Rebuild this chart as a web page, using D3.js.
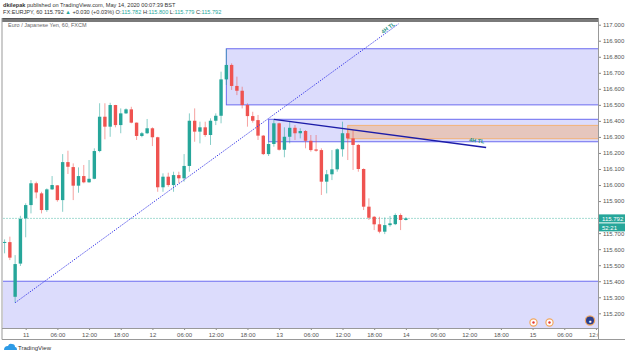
<!DOCTYPE html>
<meta charset="utf-8">
<style>
body { margin: 0; background: #fff; }
text { font-family: "Liberation Sans", Arial, sans-serif; }
.axis text { font-size: 6px; fill: #555; }
.axis line { stroke: #888; }
.axis path { display: none; }
</style>
<body>
<script src="https://d3js.org/d3.v7.min.js"></script>
<script>

// EURJPY hourly candles, 10 May 20:00 .. 14 May 00:00
var firstHour = -4;   // hours from 11 May 00:00

var opens = [115.640,115.644,115.303,115.510,115.792,115.875,116.011,115.948,115.844,115.973,
  115.998,115.906,116.143,116.112,115.996,116.056,116.017,116.039,116.212,116.426,
  116.364,116.499,116.374,116.447,116.472,116.389,116.306,116.323,116.354,116.298,
  115.986,116.052,116.000,116.062,116.042,116.119,116.401,116.333,116.360,116.312,
  116.401,116.432,116.659,116.749,116.618,116.588,116.499,116.430,116.405,116.308,
  116.193,116.256,116.385,116.220,116.301,116.357,116.323,116.337,116.276,116.222,
  116.218,116.021,116.067,116.098,116.223,116.323,116.291,116.250,116.100,115.865,
  115.802,115.755,115.709,115.750,115.756,115.813,115.782];

var highs = [115.661,115.678,115.563,115.808,115.886,116.031,116.021,115.958,115.979,116.056,
  116.000,116.193,116.214,116.135,116.110,116.125,116.156,116.229,116.510,116.510,
  116.513,116.500,116.478,116.478,116.488,116.390,116.331,116.412,116.360,116.301,
  116.073,116.077,116.083,116.083,116.193,116.447,116.478,116.395,116.395,116.416,
  116.447,116.707,116.850,116.759,116.676,116.613,116.510,116.457,116.437,116.312,
  116.270,116.410,116.389,116.360,116.395,116.374,116.354,116.343,116.312,116.312,
  116.229,116.094,116.218,116.229,116.395,116.347,116.343,116.256,116.104,115.917,
  115.807,115.802,115.798,115.807,115.823,115.823,115.800];

var lows = [115.574,115.532,115.266,115.495,115.674,115.823,115.917,115.823,115.833,115.969,
  115.896,115.833,116.069,115.906,115.952,116.011,116.014,116.036,116.204,116.285,
  116.301,116.360,116.323,116.443,116.385,116.281,116.298,116.318,116.243,115.958,
  115.958,115.989,115.958,116.011,116.021,116.083,116.270,116.260,116.301,116.250,
  116.374,116.385,116.624,116.593,116.561,116.478,116.364,116.389,116.281,116.187,
  116.181,116.239,116.215,116.173,116.260,116.281,116.291,116.229,116.208,116.208,
  115.938,115.948,116.031,116.083,116.177,116.156,116.094,116.083,115.844,115.782,
  115.719,115.699,115.694,115.740,115.750,115.719,115.779];

var closes = [115.645,115.547,115.507,115.788,115.875,116.011,115.954,115.844,115.973,116.000,
  115.906,116.143,116.114,115.996,116.056,116.017,116.039,116.212,116.426,116.364,
  116.499,116.374,116.447,116.472,116.389,116.306,116.323,116.354,116.298,115.986,
  116.052,116.000,116.062,116.042,116.119,116.401,116.333,116.360,116.312,116.401,
  116.432,116.659,116.749,116.618,116.588,116.499,116.430,116.401,116.308,116.193,
  116.256,116.385,116.220,116.301,116.357,116.323,116.337,116.276,116.218,116.214,
  116.021,116.067,116.098,116.223,116.323,116.291,116.250,116.100,115.865,115.796,
  115.755,115.709,115.750,115.761,115.813,115.782,115.792];

// drawings: [startHour, endHour, topPrice, bottomPrice]
var zoneTop = [38, 200, 116.850, 116.500];
var zoneMid = [46, 200, 116.410, 116.270];
var zoneOrange = [61, 200, 116.372, 116.289];
var zoneLow = [-20, 200, 115.400, 114.500];
var dottedTL = [[-2, 115.266], [70.6, 117.005]];
var solidTL = [[47, 116.410], [87.2, 116.234]];
var lastPrice = 115.792;

var yTicks = d3.range(1152, 1171).map(function(d) { return d / 10; });

var width = 625, height = 354;
var plotL = 3, plotR = 598, plotT = 22, plotB = 328;

var t0 = Date.UTC(2020, 4, 11);
function hr(h) { return new Date(t0 + h * 3600e3); }

// 5.28 px per hour, 11 May 00:00 at x = 25.7
var x = d3.scaleUtc()
    .domain([hr((plotL - 25.7) / 5.28), hr((plotR - 25.7) / 5.28)])
    .range([plotL, plotR]);
var y = d3.scaleLinear()
    .domain([115.2, 117.0])
    .range([313.3, 24.7]);

var candles = opens.map(function(o, i) {
  return {t: hr(firstHour + i), o: o, h: highs[i], l: lows[i], c: closes[i]};
});

var svg = d3.select("body").append("svg")
    .attr("width", width)
    .attr("height", height);

svg.append("defs").append("clipPath").attr("id", "plotclip")
  .append("rect").attr("x", plotL).attr("y", plotT)
    .attr("width", plotR - plotL).attr("height", plotB - plotT);

// header
var hd = svg.append("g").style("font-size", "5.6px");
var l1 = hd.append("text").attr("x", 3).attr("y", 7).attr("fill", "#333");
l1.append("tspan").attr("font-weight", "bold").text("dkilepak");
l1.append("tspan").text(" published on TradingView.com, May 14, 2020 00:07:39 BST");
var l2 = hd.append("text").attr("x", 3).attr("y", 14).attr("fill", "#333");
[["FX:EURJPY, 60  115.792 ", "#333"], ["\u25B2", "#26a69a"], [" +0.030 (+0.03%)  O:", "#333"],
 ["115.782", "#26a69a"], [" H:", "#333"], ["115.800", "#26a69a"], [" L:", "#333"],
 ["115.779", "#26a69a"], [" C:", "#333"], ["115.792", "#26a69a"]].forEach(function(p) {
  l2.append("tspan").attr("fill", p[1]).text(p[0]);
});

var plot = svg.append("g").attr("clip-path", "url(#plotclip)");

function zone(z, fill, stroke) {
  plot.append("rect")
      .attr("x", x(hr(z[0]))).attr("y", y(z[2]))
      .attr("width", x(hr(z[1])) - x(hr(z[0])))
      .attr("height", y(z[3]) - y(z[2]))
      .attr("fill", fill).attr("stroke", stroke).attr("stroke-width", 1);
}
zone(zoneTop, "#dcdcfc", "#6b6bf0");
zone(zoneMid, "#dcdcfc", "#6b6bf0");
zone(zoneLow, "#dcdcfc", "#6b6bf0");
zone(zoneOrange, "rgba(240,175,125,0.5)", "#f3b277");

// last price line
plot.append("line")
    .attr("x1", plotL).attr("x2", plotR)
    .attr("y1", y(lastPrice)).attr("y2", y(lastPrice))
    .attr("stroke", "#a6dcd3").attr("stroke-dasharray", "2,1");

// candles
var cw = 3.4;
var cg = plot.selectAll("g.candle").data(candles).enter().append("g")
    .attr("class", "candle");
cg.append("line")
    .attr("x1", function(d) { return x(d.t); })
    .attr("x2", function(d) { return x(d.t); })
    .attr("y1", function(d) { return y(d.h); })
    .attr("y2", function(d) { return y(d.l); })
    .attr("stroke", function(d) { return d.c >= d.o ? "#26a69a" : "#ef5350"; })
    .attr("stroke-opacity", 0.55)
    .attr("stroke-width", 1);
cg.append("rect")
    .attr("x", function(d) { return x(d.t) - cw / 2; })
    .attr("y", function(d) { return y(Math.max(d.o, d.c)); })
    .attr("width", cw)
    .attr("height", function(d) { return Math.max(1, Math.abs(y(d.o) - y(d.c))); })
    .attr("fill", function(d) { return d.c >= d.o ? "#26a69a" : "#ef5350"; });

// trend lines
plot.append("line")
    .attr("x1", x(hr(dottedTL[0][0]))).attr("y1", y(dottedTL[0][1]))
    .attr("x2", x(hr(dottedTL[1][0]))).attr("y2", y(dottedTL[1][1]))
    .attr("stroke", "#3a3ae8").attr("stroke-width", 1).attr("stroke-dasharray", "1.3,1.3");
plot.append("line")
    .attr("x1", x(hr(solidTL[0][0]))).attr("y1", y(solidTL[0][1]))
    .attr("x2", x(hr(solidTL[1][0]))).attr("y2", y(solidTL[1][1]))
    .attr("stroke", "#1c1ca8").attr("stroke-width", 1.3);

function tlLabel(tl, dx, dy) {
  var x1 = x(hr(tl[0][0])), y1 = y(tl[0][1]), x2 = x(hr(tl[1][0])), y2 = y(tl[1][1]);
  var a = Math.atan2(y2 - y1, x2 - x1) * 180 / Math.PI;
  svg.append("text")
      .attr("transform", "translate(" + (x2 + dx) + "," + (y2 + dy) + ") rotate(" + a + ")")
      .attr("text-anchor", "end")
      .attr("fill", "#26937f")
      .style("font-size", "5.5px").style("font-weight", "bold")
      .text("4H TL");
}
tlLabel(dottedTL, -3, 1);
tlLabel(solidTL, -2, -4);

// top bar
svg.append("rect").attr("x", 2).attr("y", 18).attr("width", plotR - 2).attr("height", 4)
    .attr("fill", "#7a7a7a");
svg.append("line").attr("x1", 2).attr("x2", plotR).attr("y1", 18.5).attr("y2", 18.5)
    .attr("stroke", "#555");

svg.append("text").attr("x", 8).attr("y", 27)
    .attr("fill", "#666").style("font-size", "5.5px")
    .text("Euro / Japanese Yen, 60, FXCM");

// axes
svg.append("g").attr("class", "axis")
    .attr("transform", "translate(" + plotR + ",0)")
    .call(d3.axisRight(y).tickValues(yTicks).tickSize(3).tickPadding(2)
      .tickFormat(d3.format(".3f")));

var fmt = function(d) {
  return d.getUTCHours() === 0 ? d3.utcFormat("%-d")(d) : d3.utcFormat("%H:%M")(d);
};
svg.append("g").attr("class", "axis")
    .attr("transform", "translate(0," + plotB + ")")
    .call(d3.axisBottom(x).ticks(d3.utcHour.every(6)).tickSize(2).tickPadding(3)
      .tickFormat(fmt));
// hide label overflow past the price scale
svg.append("rect").attr("x", plotR + 0.5).attr("y", plotB + 1).attr("width", width - plotR)
    .attr("height", 10).attr("fill", "#fff");

// frame lines
svg.append("line").attr("x1", 2).attr("x2", 2).attr("y1", 18).attr("y2", 339.5).attr("stroke", "#999");
svg.append("line").attr("x1", 2).attr("x2", plotR).attr("y1", plotB + 0.5).attr("y2", plotB + 0.5).attr("stroke", "#999");
svg.append("line").attr("x1", plotR + 0.5).attr("x2", plotR + 0.5).attr("y1", 18).attr("y2", 339.5).attr("stroke", "#999");
svg.append("line").attr("x1", 2).attr("x2", width).attr("y1", 339.5).attr("y2", 339.5).attr("stroke", "#999");

// last price tags
function tag(yy, label) {
  svg.append("rect").attr("x", plotR + 1).attr("y", yy - 4).attr("width", 26).attr("height", 8)
      .attr("fill", "#26a69a");
  svg.append("text").attr("x", plotR + 4).attr("y", yy + 2.2).attr("fill", "#fff")
      .style("font-size", "6px").text(label);
}
tag(y(lastPrice), "115.792");
tag(y(lastPrice) + 9, "52:21");

// event icons
[[533.5, 322.5], [549.5, 322.5]].forEach(function(p) {
  svg.append("circle").attr("cx", p[0]).attr("cy", p[1]).attr("r", 3.6)
      .attr("fill", "#fff").attr("stroke", "#f2a860").attr("stroke-width", 1.2);
  svg.append("circle").attr("cx", p[0]).attr("cy", p[1]).attr("r", 1.2).attr("fill", "#e53935");
});
svg.append("circle").attr("cx", 590).attr("cy", 320.5).attr("r", 4.6)
    .attr("fill", "#2c3f8c").attr("stroke", "#f2a860").attr("stroke-width", 1.2);
svg.append("text").attr("x", 590).attr("y", 322.5).attr("text-anchor", "middle")
    .attr("fill", "#fff").style("font-size", "5px").text("\u25CF");

// logo
svg.append("path").attr("d", "M4,350 q0,-4 4,-4 q1,-3 4,-2 q3,0 3,3 q2,0 2,3 z")
    .attr("fill", "#2e9be6");
svg.append("text").attr("x", 18).attr("y", 350).attr("fill", "#333")
    .style("font-size", "6px").text("TradingView");

</script>
</body>
